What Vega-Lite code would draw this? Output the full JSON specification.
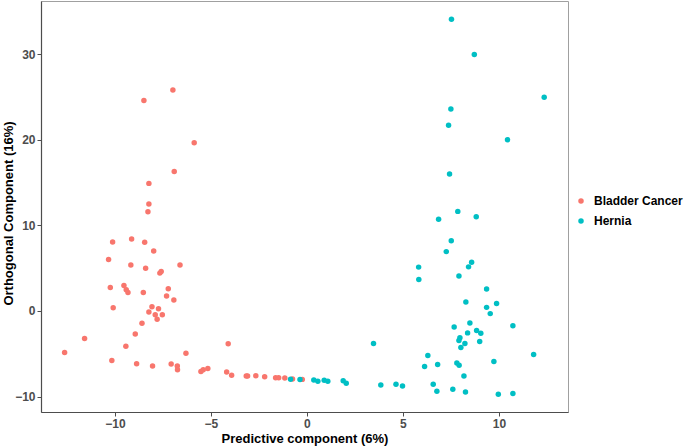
{
  "$schema": "https://vega.github.io/schema/vega-lite/v6.json",
  "autosize": "none",
  "width": 527,
  "height": 411,
  "padding": {"left": 41, "top": 1, "right": 117, "bottom": 36},
  "background": "white",
  "config": {
    "font": "Liberation Sans",
    "view": {"stroke": "#a0a0a0", "strokeWidth": 1}
  },
  "data": {
    "values": [
      {"x": -8.49, "y": 24.57, "g": "Bladder Cancer"},
      {"x": -6.98, "y": 25.8, "g": "Bladder Cancer"},
      {"x": -5.87, "y": 19.65, "g": "Bladder Cancer"},
      {"x": -6.91, "y": 16.3, "g": "Bladder Cancer"},
      {"x": -8.23, "y": 14.9, "g": "Bladder Cancer"},
      {"x": -8.23, "y": 12.5, "g": "Bladder Cancer"},
      {"x": -8.28, "y": 11.6, "g": "Bladder Cancer"},
      {"x": -10.12, "y": 8.06, "g": "Bladder Cancer"},
      {"x": -9.13, "y": 8.41, "g": "Bladder Cancer"},
      {"x": -8.45, "y": 8.02, "g": "Bladder Cancer"},
      {"x": -7.98, "y": 7.01, "g": "Bladder Cancer"},
      {"x": -10.33, "y": 6.0, "g": "Bladder Cancer"},
      {"x": -9.17, "y": 5.38, "g": "Bladder Cancer"},
      {"x": -8.4, "y": 5.0, "g": "Bladder Cancer"},
      {"x": -7.66, "y": 4.42, "g": "Bladder Cancer"},
      {"x": -7.59, "y": 4.6, "g": "Bladder Cancer"},
      {"x": -6.61, "y": 5.38, "g": "Bladder Cancer"},
      {"x": -10.24, "y": 2.74, "g": "Bladder Cancer"},
      {"x": -9.53, "y": 2.98, "g": "Bladder Cancer"},
      {"x": -9.41, "y": 2.48, "g": "Bladder Cancer"},
      {"x": -9.32, "y": 2.16, "g": "Bladder Cancer"},
      {"x": -8.52, "y": 2.16, "g": "Bladder Cancer"},
      {"x": -7.22, "y": 2.59, "g": "Bladder Cancer"},
      {"x": -7.31, "y": 1.74, "g": "Bladder Cancer"},
      {"x": -6.93, "y": 1.28, "g": "Bladder Cancer"},
      {"x": -10.09, "y": 0.38, "g": "Bladder Cancer"},
      {"x": -8.07, "y": 0.5, "g": "Bladder Cancer"},
      {"x": -7.73, "y": 0.27, "g": "Bladder Cancer"},
      {"x": -8.23, "y": -0.12, "g": "Bladder Cancer"},
      {"x": -7.9, "y": -0.43, "g": "Bladder Cancer"},
      {"x": -7.53, "y": -0.43, "g": "Bladder Cancer"},
      {"x": -7.8, "y": -0.97, "g": "Bladder Cancer"},
      {"x": -8.59, "y": -1.44, "g": "Bladder Cancer"},
      {"x": -8.94, "y": -2.68, "g": "Bladder Cancer"},
      {"x": -11.58, "y": -3.22, "g": "Bladder Cancer"},
      {"x": -9.43, "y": -4.11, "g": "Bladder Cancer"},
      {"x": -4.1, "y": -3.84, "g": "Bladder Cancer"},
      {"x": -12.62, "y": -4.85, "g": "Bladder Cancer"},
      {"x": -6.3, "y": -4.93, "g": "Bladder Cancer"},
      {"x": -10.16, "y": -5.78, "g": "Bladder Cancer"},
      {"x": -8.87, "y": -6.17, "g": "Bladder Cancer"},
      {"x": -8.04, "y": -6.44, "g": "Bladder Cancer"},
      {"x": -7.07, "y": -6.2, "g": "Bladder Cancer"},
      {"x": -6.75, "y": -6.44, "g": "Bladder Cancer"},
      {"x": -6.74, "y": -6.86, "g": "Bladder Cancer"},
      {"x": -5.52, "y": -7.06, "g": "Bladder Cancer"},
      {"x": -5.4, "y": -6.86, "g": "Bladder Cancer"},
      {"x": -5.16, "y": -6.71, "g": "Bladder Cancer"},
      {"x": -4.18, "y": -7.14, "g": "Bladder Cancer"},
      {"x": -3.92, "y": -7.52, "g": "Bladder Cancer"},
      {"x": -3.16, "y": -7.6, "g": "Bladder Cancer"},
      {"x": -3.09, "y": -7.6, "g": "Bladder Cancer"},
      {"x": -2.66, "y": -7.56, "g": "Bladder Cancer"},
      {"x": -2.2, "y": -7.68, "g": "Bladder Cancer"},
      {"x": -1.63, "y": -7.79, "g": "Bladder Cancer"},
      {"x": -1.47, "y": -7.79, "g": "Bladder Cancer"},
      {"x": -1.15, "y": -7.83, "g": "Bladder Cancer"},
      {"x": -0.75, "y": -7.95, "g": "Bladder Cancer"},
      {"x": -0.24, "y": -7.99, "g": "Bladder Cancer"},
      {"x": -0.85, "y": -7.97, "g": "Hernia"},
      {"x": -0.36, "y": -8.0, "g": "Hernia"},
      {"x": 0.36, "y": -8.07, "g": "Hernia"},
      {"x": 0.57, "y": -8.22, "g": "Hernia"},
      {"x": 0.9, "y": -8.1, "g": "Hernia"},
      {"x": 1.09, "y": -8.22, "g": "Hernia"},
      {"x": 1.89, "y": -8.14, "g": "Hernia"},
      {"x": 2.05, "y": -8.45, "g": "Hernia"},
      {"x": 3.47, "y": -3.8, "g": "Hernia"},
      {"x": 3.85, "y": -8.65, "g": "Hernia"},
      {"x": 4.64, "y": -8.57, "g": "Hernia"},
      {"x": 7.53, "y": 34.07, "g": "Hernia"},
      {"x": 8.72, "y": 29.95, "g": "Hernia"},
      {"x": 12.36, "y": 24.95, "g": "Hernia"},
      {"x": 7.5, "y": 23.6, "g": "Hernia"},
      {"x": 7.38, "y": 21.7, "g": "Hernia"},
      {"x": 10.45, "y": 20.0, "g": "Hernia"},
      {"x": 7.43, "y": 16.0, "g": "Hernia"},
      {"x": 7.86, "y": 11.63, "g": "Hernia"},
      {"x": 6.86, "y": 10.7, "g": "Hernia"},
      {"x": 8.82, "y": 11.0, "g": "Hernia"},
      {"x": 7.52, "y": 8.21, "g": "Hernia"},
      {"x": 7.26, "y": 6.93, "g": "Hernia"},
      {"x": 8.58, "y": 5.7, "g": "Hernia"},
      {"x": 8.42, "y": 5.15, "g": "Hernia"},
      {"x": 5.82, "y": 5.12, "g": "Hernia"},
      {"x": 5.83, "y": 3.68, "g": "Hernia"},
      {"x": 7.92, "y": 4.07, "g": "Hernia"},
      {"x": 9.36, "y": 2.56, "g": "Hernia"},
      {"x": 8.28, "y": 1.05, "g": "Hernia"},
      {"x": 9.36, "y": 0.42, "g": "Hernia"},
      {"x": 9.88, "y": 0.88, "g": "Hernia"},
      {"x": 9.55, "y": -0.31, "g": "Hernia"},
      {"x": 7.67, "y": -1.86, "g": "Hernia"},
      {"x": 8.49, "y": -1.4, "g": "Hernia"},
      {"x": 10.73, "y": -1.74, "g": "Hernia"},
      {"x": 8.37, "y": -2.56, "g": "Hernia"},
      {"x": 8.84, "y": -2.29, "g": "Hernia"},
      {"x": 9.06, "y": -2.6, "g": "Hernia"},
      {"x": 7.97, "y": -3.14, "g": "Hernia"},
      {"x": 7.92, "y": -3.45, "g": "Hernia"},
      {"x": 8.23, "y": -3.8, "g": "Hernia"},
      {"x": 9.0, "y": -3.57, "g": "Hernia"},
      {"x": 8.02, "y": -4.27, "g": "Hernia"},
      {"x": 6.3, "y": -5.2, "g": "Hernia"},
      {"x": 11.81, "y": -5.08, "g": "Hernia"},
      {"x": 6.13, "y": -6.48, "g": "Hernia"},
      {"x": 6.81, "y": -6.24, "g": "Hernia"},
      {"x": 7.81, "y": -6.09, "g": "Hernia"},
      {"x": 7.93, "y": -6.33, "g": "Hernia"},
      {"x": 9.74, "y": -5.9, "g": "Hernia"},
      {"x": 8.18, "y": -7.6, "g": "Hernia"},
      {"x": 4.98, "y": -8.77, "g": "Hernia"},
      {"x": 6.58, "y": -8.57, "g": "Hernia"},
      {"x": 6.77, "y": -9.38, "g": "Hernia"},
      {"x": 7.6, "y": -9.15, "g": "Hernia"},
      {"x": 8.26, "y": -9.46, "g": "Hernia"},
      {"x": 9.97, "y": -9.73, "g": "Hernia"},
      {"x": 10.73, "y": -9.65, "g": "Hernia"}
    ]
  },
  "mark": {"type": "circle", "size": 30, "opacity": 1},
  "encoding": {
    "x": {
      "field": "x", "type": "quantitative",
      "scale": {"domain": [-13.85, 13.6], "nice": false, "zero": false},
      "axis": {
        "title": "Predictive component (6%)",
        "values": [-10, -5, 0, 5, 10],
        "grid": false,
        "domainColor": "#4d4d4d", "domainWidth": 1.2,
        "tickColor": "#4d4d4d", "tickSize": 4,
        "labelFont": "Liberation Sans", "labelFontSize": 12, "labelFontWeight": "bold", "labelColor": "#4d4d4d", "labelPadding": 2,
        "titleFont": "Liberation Sans", "titleFontSize": 13, "titleFontWeight": "bold", "titleColor": "#000000", "titlePadding": 3
      }
    },
    "y": {
      "field": "y", "type": "quantitative",
      "scale": {"domain": [-11.8, 36.2], "nice": false, "zero": false},
      "axis": {
        "title": "Orthogonal Component (16%)",
        "values": [-10, 0, 10, 20, 30],
        "grid": false,
        "domainColor": "#4d4d4d", "domainWidth": 1.2,
        "tickColor": "#4d4d4d", "tickSize": 4,
        "labelFont": "Liberation Sans", "labelFontSize": 12, "labelFontWeight": "bold", "labelColor": "#4d4d4d", "labelPadding": 2,
        "titleFont": "Liberation Sans", "titleFontSize": 13, "titleFontWeight": "bold", "titleColor": "#000000",
        "titleX": -26, "titleY": 212
      }
    },
    "color": {
      "field": "g", "type": "nominal",
      "scale": {"domain": ["Bladder Cancer", "Hernia"], "range": ["#F8766D", "#00BFC4"]},
      "legend": {
        "title": null,
        "orient": "none",
        "legendX": 534,
        "legendY": 194,
        "symbolType": "circle",
        "symbolSize": 30,
        "symbolStrokeWidth": 0,
        "labelFont": "Liberation Sans",
        "labelFontSize": 12,
        "labelFontWeight": "bold",
        "labelColor": "#000000",
        "labelOffset": 7,
        "rowPadding": 8
      }
    }
  }
}
